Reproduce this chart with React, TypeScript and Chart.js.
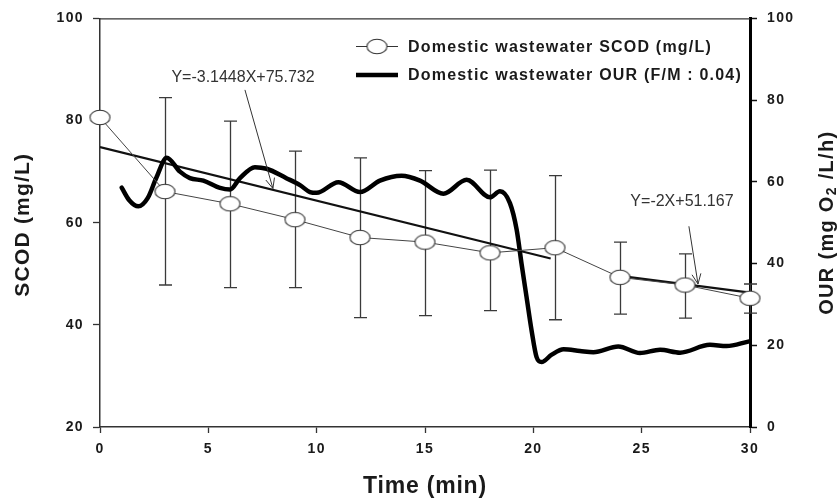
import React, { useEffect, useRef } from 'react';
import { Chart, registerables } from 'chart.js';

Chart.register(...registerables);

// ---------- data ----------
const timeMin = [0, 3, 6, 9, 12, 15, 18, 21, 24, 27, 30];
const scod = [80.6, 66.1, 63.7, 60.6, 57.1, 56.2, 54.1, 55.1, 49.3, 47.8, 45.2];
const scodHigh = [null, 84.5, 79.9, 74.0, 72.7, 70.2, 70.3, 69.2, 56.2, 53.9, 48.0];
const scodLow = [null, 47.8, 47.3, 47.3, 41.4, 41.8, 42.8, 41.0, 42.1, 41.3, 42.3];

const ourTime = [1.0, 1.35, 1.77, 2.2, 2.6, 3.08, 3.69, 4.15, 4.77, 5.54, 6.0, 6.46, 7.15, 7.69, 8.6, 9.23, 9.69, 10.0, 11.0, 12.0, 12.92, 13.92, 14.77, 15.85, 16.92, 18.0, 18.46, 18.92, 19.23, 19.46, 19.69, 19.92, 20.15, 20.38, 20.85, 21.4, 22.15, 22.77, 23.92, 24.92, 25.85, 26.77, 28.15, 28.92, 29.92];
const ourValue = [58.6, 55.5, 54.0, 56.0, 61.0, 65.9, 62.5, 60.9, 60.3, 58.5, 58.1, 60.9, 63.6, 63.2, 60.9, 59.2, 57.5, 57.3, 59.9, 57.5, 60.3, 61.5, 60.3, 57.1, 60.5, 56.2, 57.7, 54.8, 48.3, 39.8, 31.7, 23.6, 17.1, 15.9, 17.7, 19.0, 18.6, 18.3, 19.7, 18.1, 18.9, 18.2, 20.1, 19.8, 20.9];

const trend1Time = [0, 20.8];
const trend1Value = [74.8, 53.0];
const trend2Time = [24, 30];
const trend2Value = [49.6, 46.3];

const xTicks = [0, 5, 10, 15, 20, 25, 30];
const leftTicks = [20, 40, 60, 80, 100];
const rightTicks = [0, 20, 40, 60, 80, 100];

const legendLabels = ['Domestic wastewater SCOD (mg/L)', 'Domestic wastewater OUR (F/M : 0.04)'];
const eqLabels = ['Y=-3.1448X+75.732', 'Y=-2X+51.167'];
// label anchor (time, SCOD) and arrow from/to (time, SCOD)
const eqLabelAt = [[6.6, 88.5], [26.86, 64.2]];
const eqArrowFrom = [[6.69, 86.0], [27.18, 59.3]];
const eqArrowTo = [[7.98, 66.7], [27.6, 48.0]];

const FONT = "'Liberation Sans', Arial, Helvetica, sans-serif";

function makeEllipse(): HTMLCanvasElement {
  const c = document.createElement('canvas');
  c.width = 23;
  c.height = 17;
  const g = c.getContext('2d')!;
  g.beginPath();
  g.ellipse(11.5, 8.5, 10, 7.3, 0, 0, Math.PI * 2);
  g.fillStyle = '#ffffff';
  g.fill();
  g.lineWidth = 1.1;
  g.strokeStyle = '#333333';
  g.stroke();
  return c;
}

function drawArrow(ctx: CanvasRenderingContext2D, x0: number, y0: number, x1: number, y1: number) {
  ctx.beginPath();
  ctx.moveTo(x0, y0);
  ctx.lineTo(x1, y1);
  const a = Math.atan2(y1 - y0, x1 - x0);
  const L = 11;
  const s = 0.42;
  ctx.moveTo(x1 - L * Math.cos(a - s), y1 - L * Math.sin(a - s));
  ctx.lineTo(x1, y1);
  ctx.lineTo(x1 - L * Math.cos(a + s), y1 - L * Math.sin(a + s));
  ctx.stroke();
}

const overlayPlugin = {
  id: 'overlay',
  beforeDraw(chart: any) {
    chart.ctx.letterSpacing = '1.4px';
  },
  beforeDatasetsDraw(chart: any) {
    const ctx: CanvasRenderingContext2D = chart.ctx;
    const xs = chart.scales.x;
    const ys = chart.scales.y;
    const ca = chart.chartArea;
    ctx.save();
    // top frame line
    ctx.strokeStyle = '#333';
    ctx.lineWidth = 1.2;
    ctx.beginPath();
    ctx.moveTo(ca.left, ca.top + 0.5);
    ctx.lineTo(ca.right, ca.top + 0.5);
    ctx.stroke();
    // error bars
    ctx.strokeStyle = '#3a3a3a';
    ctx.lineWidth = 1.3;
    for (let i = 0; i < timeMin.length; i++) {
      const hi = scodHigh[i];
      const lo = scodLow[i];
      if (hi == null || lo == null) continue;
      const x = Math.round(xs.getPixelForValue(timeMin[i])) + 0.5;
      const yh = ys.getPixelForValue(hi);
      const yl = ys.getPixelForValue(lo);
      ctx.beginPath();
      ctx.moveTo(x, yh);
      ctx.lineTo(x, yl);
      ctx.moveTo(x - 6.5, yh);
      ctx.lineTo(x + 6.5, yh);
      ctx.moveTo(x - 6.5, yl);
      ctx.lineTo(x + 6.5, yl);
      ctx.stroke();
    }
    ctx.restore();
  },
  afterDraw(chart: any) {
    const ctx: CanvasRenderingContext2D = chart.ctx;
    const xs = chart.scales.x;
    const ys = chart.scales.y;
    const ca = chart.chartArea;
    ctx.save();
    ctx.fillStyle = '#1a1a1a';
    ctx.strokeStyle = '#333';

    // equations + arrows
    ctx.font = `16px ${FONT}`;
    (ctx as any).letterSpacing = '0px';
    ctx.textAlign = 'center';
    ctx.textBaseline = 'middle';
    ctx.lineWidth = 1;
    for (let i = 0; i < eqLabels.length; i++) {
      ctx.fillStyle = '#333';
      ctx.fillText(eqLabels[i], xs.getPixelForValue(eqLabelAt[i][0]), ys.getPixelForValue(eqLabelAt[i][1]));
      drawArrow(
        ctx,
        xs.getPixelForValue(eqArrowFrom[i][0]),
        ys.getPixelForValue(eqArrowFrom[i][1]),
        xs.getPixelForValue(eqArrowTo[i][0]),
        ys.getPixelForValue(eqArrowTo[i][1])
      );
    }

    // legend
    const lx0 = 356;
    const lx1 = 398;
    const ly = [46.5, 75];
    ctx.strokeStyle = '#333';
    ctx.lineWidth = 1.1;
    ctx.beginPath();
    ctx.moveTo(lx0, ly[0]);
    ctx.lineTo(lx1, ly[0]);
    ctx.stroke();
    const el = makeEllipse();
    ctx.drawImage(el, (lx0 + lx1) / 2 - el.width / 2, ly[0] - el.height / 2);
    ctx.strokeStyle = '#000';
    ctx.lineWidth = 4.5;
    ctx.beginPath();
    ctx.moveTo(lx0, ly[1]);
    ctx.lineTo(lx1, ly[1]);
    ctx.stroke();
    ctx.font = `bold 16px ${FONT}`;
    (ctx as any).letterSpacing = '1.2px';
    ctx.textAlign = 'left';
    ctx.fillStyle = '#1a1a1a';
    ctx.fillText(legendLabels[0], 408, ly[0] + 1);
    ctx.fillText(legendLabels[1], 408, ly[1] + 1);

    // x title
    ctx.font = `bold 23px ${FONT}`;
    (ctx as any).letterSpacing = '0.8px';
    ctx.textAlign = 'center';
    ctx.fillText('Time (min)', (ca.left + ca.right) / 2, 487);

    // left title
    ctx.save();
    ctx.translate(23, (ca.top + ca.bottom) / 2 + 2);
    ctx.rotate(-Math.PI / 2);
    ctx.font = `bold 21px ${FONT}`;
    (ctx as any).letterSpacing = '1.2px';
    ctx.textAlign = 'center';
    ctx.fillText('SCOD (mg/L)', 0, 0);
    ctx.restore();

    // right title with subscript
    ctx.save();
    ctx.translate(827, (ca.top + ca.bottom) / 2);
    ctx.rotate(-Math.PI / 2);
    ctx.textAlign = 'left';
    ctx.textBaseline = 'middle';
    (ctx as any).letterSpacing = '1.3px';
    const big = `bold 20px ${FONT}`;
    const small = `bold 14px ${FONT}`;
    const p1 = 'OUR (mg O';
    const p2 = '2';
    const p3 = ' /L/h)';
    ctx.font = big;
    const w1 = ctx.measureText(p1).width;
    const w3 = ctx.measureText(p3).width;
    ctx.font = small;
    const w2 = ctx.measureText(p2).width;
    let x = -(w1 + w2 + w3) / 2;
    ctx.font = big;
    ctx.fillText(p1, x, 0);
    x += w1;
    ctx.font = small;
    ctx.fillText(p2, x, 5);
    x += w2;
    ctx.font = big;
    ctx.fillText(p3, x, 0);
    ctx.restore();

    ctx.restore();
  },
};

export default function App() {
  const ref = useRef<HTMLCanvasElement | null>(null);

  useEffect(() => {
    if (!ref.current) return;
    const marker = makeEllipse();
    const tickFont = { family: FONT, size: 14, weight: 'bold' as const };

    const chart = new Chart(ref.current, {
      type: 'line',
      data: {
        datasets: [
          {
            label: legendLabels[0],
            data: timeMin.map((t, i) => ({ x: t, y: scod[i] })),
            yAxisID: 'y',
            borderColor: '#444',
            borderWidth: 1,
            pointStyle: marker as any,
            pointRadius: 9,
            pointHoverRadius: 9,
            tension: 0,
            clip: false as any,
            order: 0,
          },
          {
            label: legendLabels[1],
            data: ourTime.map((t, i) => ({ x: t, y: ourValue[i] })),
            yAxisID: 'y1',
            borderColor: '#000',
            borderWidth: 4.5,
            pointRadius: 0,
            cubicInterpolationMode: 'monotone',
            borderJoinStyle: 'round',
            borderCapStyle: 'round',
            clip: false as any,
            order: 1,
          },
          {
            label: 'trend1',
            data: trend1Time.map((t, i) => ({ x: t, y: trend1Value[i] })),
            yAxisID: 'y',
            borderColor: '#111',
            borderWidth: 2.2,
            pointRadius: 0,
            order: 2,
          },
          {
            label: 'trend2',
            data: trend2Time.map((t, i) => ({ x: t, y: trend2Value[i] })),
            yAxisID: 'y',
            borderColor: '#111',
            borderWidth: 2.2,
            pointRadius: 0,
            order: 2,
          },
        ],
      },
      options: {
        animation: false,
        responsive: false,
        devicePixelRatio: 1,
        events: [],
        layout: { padding: { top: 16, left: 0, right: 0, bottom: 0 } },
        plugins: { legend: { display: false }, tooltip: { enabled: false } },
        scales: {
          x: {
            type: 'linear',
            min: 0,
            max: 30,
            afterFit: (s: any) => {
              s.height = 72;
            },
            afterBuildTicks: (s: any) => {
              s.ticks = xTicks.map((v) => ({ value: v }));
            },
            ticks: { font: tickFont, color: '#1a1a1a', padding: 8, maxRotation: 0 },
            grid: { drawOnChartArea: false, tickLength: 6, tickColor: '#333', tickWidth: 1.3 },
            border: { color: '#333', width: 1.5 },
          },
          y: {
            type: 'linear',
            position: 'left',
            min: 20,
            max: 100,
            afterFit: (s: any) => {
              s.width = 100;
            },
            afterBuildTicks: (s: any) => {
              s.ticks = leftTicks.map((v) => ({ value: v }));
            },
            ticks: { font: tickFont, color: '#1a1a1a', padding: 9 },
            grid: { drawOnChartArea: false, tickLength: 7, tickColor: '#333', tickWidth: 1.3 },
            border: { color: '#333', width: 1.5 },
          },
          y1: {
            type: 'linear',
            position: 'right',
            min: 0,
            max: 100,
            afterFit: (s: any) => {
              s.width = 90;
            },
            afterBuildTicks: (s: any) => {
              s.ticks = rightTicks.map((v) => ({ value: v }));
            },
            ticks: { font: tickFont, color: '#1a1a1a', padding: 10 },
            grid: { drawOnChartArea: false, tickLength: 7, tickColor: '#111', tickWidth: 1.5 },
            border: { color: '#000', width: 3 },
          },
        },
      },
      plugins: [overlayPlugin as any],
    });
    return () => chart.destroy();
  }, []);

  return (
    <div style={{ position: 'fixed', left: 0, top: 0, width: 840, height: 499, background: '#fff' }}>
      <canvas ref={ref} width={840} height={499} style={{ display: 'block', width: 840, height: 499 }} />
    </div>
  );
}
